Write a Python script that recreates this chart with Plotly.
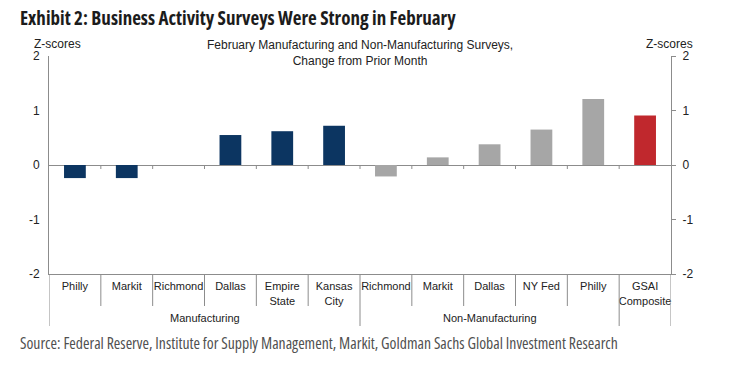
import plotly.graph_objects as go

# ---- data ----
categories = ["Philly", "Markit", "Richmond", "Dallas", "Empire<br>State", "Kansas<br>City",
              "Richmond", "Markit", "Dallas", "NY Fed", "Philly", "GSAI<br>Composite"]
groups = ["Manufacturing"] * 6 + ["Non-Manufacturing"] * 5 + [""]
values = [-0.24, -0.24, 0.0, 0.55, 0.62, 0.72, -0.21, 0.14, 0.38, 0.65, 1.21, 0.91]
y_ticks = [-2, -1, 0, 1, 2]
y_tick_labels = ["-2", "-1", "0", "1", "2"]

title = "Exhibit 2: Business Activity Surveys Were Strong in February"
subtitle = "February Manufacturing and Non-Manufacturing Surveys,<br>Change from Prior Month"
source = "Source: Federal Reserve, Institute for Supply Management, Markit, Goldman Sachs Global Investment Research"

group_colors = {"Manufacturing": "#0c3561", "Non-Manufacturing": "#a6a6a6", "": "#c0282d"}
AX = "#8c8c8c"
TXT = "#222222"
FONT = "Liberation Sans, Arial, sans-serif"
COND = "Open Sans, sans-serif"


def condensed(s):
    return "<span style='font-stretch:75%'>" + s + "</span>"


xs = list(range(len(categories)))
fig = go.Figure()
fig.add_trace(go.Bar(x=xs, y=values, width=0.42,
                     marker=dict(color=[group_colors[g] for g in groups], line=dict(width=0)),
                     showlegend=False, hoverinfo="skip"))
fig.add_trace(go.Scatter(x=[xs[0]], y=[None], yaxis="y2", mode="markers",
                         showlegend=False, hoverinfo="skip"))

fig.update_layout(
    width=738, height=370,
    margin=dict(l=49, r=67, t=56, b=96),
    paper_bgcolor="white", plot_bgcolor="white",
    xaxis=dict(range=[-0.5, len(xs) - 0.5], tickvals=xs, ticktext=categories,
               showline=True, linecolor=AX, linewidth=1, ticks="", showgrid=False,
               zeroline=False, tickangle=0,
               tickfont=dict(family=FONT, size=11, color=TXT), ticklabelstandoff=2),
    yaxis=dict(range=[-2, 2], tickvals=y_ticks, ticktext=y_tick_labels,
               showline=True, linecolor=AX, linewidth=1,
               ticks="", showgrid=False, zeroline=True, zerolinecolor=AX, zerolinewidth=1,
               tickfont=dict(family=FONT, size=12, color=TXT), ticklabelstandoff=6),
    yaxis2=dict(range=[-2, 2], tickvals=y_ticks, ticktext=y_tick_labels,
                overlaying="y", side="right",
                showline=True, linecolor=AX, linewidth=1, ticks="outside", ticklen=4,
                tickcolor=AX, showgrid=False, zeroline=False, ticklabelstandoff=4,
                tickfont=dict(family=FONT, size=12, color=TXT)),
)

shapes = []
# small ticks under the zero line at category boundaries
for i in range(1, len(xs)):
    shapes.append(dict(type="line", xref="x", yref="y", ysizemode="pixel", yanchor=0,
                       x0=i - 0.5, x1=i - 0.5, y0=0, y1=-4,
                       line=dict(color=AX, width=1)))
# category / group separators below the plot
for i in range(0, len(xs) + 1):
    is_group = i == 0 or i == len(xs) or groups[i] != groups[i - 1]
    shapes.append(dict(type="line", xref="x", yref="paper", ysizemode="pixel", yanchor=0,
                       x0=i - 0.5, x1=i - 0.5, y0=0, y1=-52 if is_group else -32,
                       line=dict(color=AX, width=1)))
fig.update_layout(shapes=shapes)

ann = []
seen = []
for g in groups:
    if g and g not in seen:
        seen.append(g)
for g in seen:
    idx = [i for i, gg in enumerate(groups) if gg == g]
    ann.append(dict(text=g, x=sum(idx) / len(idx), xref="x", y=0, yref="paper",
                    yanchor="middle", yshift=-44, showarrow=False,
                    font=dict(family=FONT, size=11, color=TXT)))

ann.append(dict(text=condensed("<b>" + title + "</b>"), x=0, xref="paper", xanchor="left", xshift=-31,
                y=1, yref="paper", yanchor="middle", yshift=38, showarrow=False,
                font=dict(family=COND, size=19, color="#1c1c1c")))
ann.append(dict(text=subtitle, x=0.5, xref="paper", xanchor="center",
                y=1, yref="paper", yanchor="middle", yshift=3, showarrow=False,
                font=dict(family=FONT, size=12, color=TXT)))
ann.append(dict(text="Z-scores", x=0, xref="paper", xanchor="left", xshift=-17,
                y=1, yref="paper", yanchor="middle", yshift=12, showarrow=False,
                font=dict(family=FONT, size=12, color=TXT)))
ann.append(dict(text="Z-scores", x=1, xref="paper", xanchor="right", xshift=24,
                y=1, yref="paper", yanchor="middle", yshift=12, showarrow=False,
                font=dict(family=FONT, size=12, color=TXT)))
ann.append(dict(text=condensed(source), x=0, xref="paper", xanchor="left", xshift=-31,
                y=0, yref="paper", yanchor="middle", yshift=-69, showarrow=False,
                font=dict(family=COND, size=15.7, color="#505050")))
fig.update_layout(annotations=ann)

fig.write_html("out.html", config={"displayModeBar": False},
               post_script="document.body.style.margin='0';document.body.style.padding='0';")
